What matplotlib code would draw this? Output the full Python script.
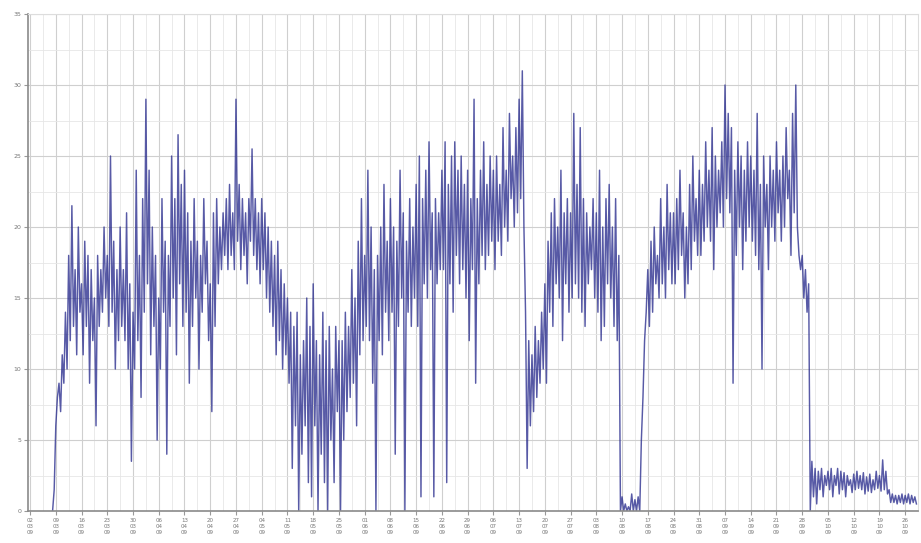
import matplotlib
matplotlib.use("Agg")
import matplotlib.pyplot as plt
import numpy as np

# readings, 16 per week column (step = 1/16 of a tick interval), starting just before tick 1
temp = [
    0.0, 1.5,
    6, 8, 9, 7, 11, 9, 14, 10, 18, 12, 21.5, 13, 17, 11, 20, 14,
    16, 11, 19, 13, 18, 9, 17, 12, 15, 6, 18, 13, 17, 14, 20, 15,
    18, 13, 25, 14, 19, 10, 17, 12, 20, 13, 17, 12, 21, 10, 16, 3.5,
    14, 10, 24, 12, 18, 8, 22, 14, 29, 16, 24, 11, 20, 13, 18, 5,
    15, 10, 22, 14, 19, 4, 18, 13, 25, 15, 22, 11, 26.5, 16, 23, 13,
    24, 14, 21, 9, 19, 13, 22, 15, 19, 10, 18, 14, 22, 16, 19, 12,
    16, 7, 21, 13, 22, 16, 20, 17, 21, 18, 22, 17, 23, 18, 21, 17,
    29, 19, 23, 17, 22, 18, 21, 16, 22, 19, 25.5, 18, 22, 17, 21, 16,
    22, 17, 21, 15, 20, 14, 19, 13, 18, 11, 19, 12, 17, 10, 16, 11,
    15, 9, 14, 3, 13, 6, 14, 0, 11, 4, 12, 6, 15, 2, 13, 1,
    16, 6, 12, 0, 11, 4, 14, 2, 12, 0, 13, 5, 10, 2, 13, 7,
    12, 0, 12, 5, 14, 7, 13, 8, 17, 9, 15, 6, 19, 11, 22, 12,
    18, 13, 24, 12, 20, 9, 17, 0, 18, 12, 20, 11, 23, 14, 19, 12,
    22, 14, 20, 4, 19, 13, 24, 15, 21, 0, 19, 14, 22, 13, 20, 15,
    23, 13, 25, 1, 22, 16, 24, 15, 26, 17, 21, 1, 22, 16, 21, 17,
    24, 17, 26, 2, 23, 16, 25, 14, 26, 18, 24, 16, 25, 17, 23, 15,
    24, 12, 22, 17, 29, 9, 22, 16, 24, 18, 26, 17, 23, 18, 25, 19,
    24, 17, 25, 19, 23, 18, 27, 20, 24, 19, 28, 22, 25, 20, 27, 21,
    29, 22, 31, 20, 14, 3, 12, 6, 11, 7, 13, 8, 12, 9, 14, 10,
    16, 9, 19, 14, 21, 13, 22, 16, 20, 15, 24, 12, 21, 16, 22, 14,
    21, 15, 28, 16, 23, 15, 27, 14, 22, 13, 21, 16, 20, 17, 22, 15,
    21, 14, 24, 12, 20, 13, 22, 16, 23, 15, 20, 13, 22, 12, 18, 0,
    1, 0, 0.5, 0, 0.3, 0, 1.2, 0, 0.8, 0, 1, 0, 5, 8, 12, 14,
    17, 13, 19, 14, 20, 16, 18, 15, 22, 16, 20, 15, 23, 17, 21, 16,
    21, 16, 22, 17, 24, 18, 21, 15, 20, 16, 23, 17, 25, 19, 22, 18,
    24, 18, 23, 19, 26, 20, 24, 19, 27, 17, 25, 20, 24, 21, 26, 20,
    30, 22, 28, 21, 27, 9, 24, 18, 26, 20, 25, 17, 24, 19, 26, 20,
    25, 19, 24, 18, 28, 17, 23, 10, 25, 20, 23, 17, 25, 20, 24, 19,
    26, 21, 24, 19, 25, 20, 27, 22, 24, 18, 28, 21, 30, 20, 18, 17,
    18, 15, 17, 14, 16, 0, 3.5, 1, 3, 0.5, 2.8, 1.5, 3, 1, 2.5, 1.8,
    2.8, 1.5, 3, 1, 2.5, 1.8, 3, 1.2, 2.8, 1.5, 2.7, 1, 2.5, 1.8, 2.2, 1.3,
    2.6, 1.5, 2.8, 1.6, 2.5, 1.5, 2.7, 1.2, 2.4, 1.4, 2.6, 1.3, 2.2, 1.5, 2.8, 1.6,
    2.5, 1.4, 3.6, 1.5, 2.8, 1.2, 1.5, 0.6, 1.2, 0.6, 1.1, 0.5, 1.1, 0.6, 1.2, 0.5,
    1.1, 0.6, 1.2, 0.5, 1.1, 0.6, 1.0, 0.5,
]

dates = ["02/03/09", "09/03/09", "16/03/09", "23/03/09", "30/03/09", "06/04/09",
         "13/04/09", "20/04/09", "27/04/09", "04/05/09", "11/05/09", "18/05/09",
         "25/05/09", "01/06/09", "08/06/09", "15/06/09", "22/06/09", "29/06/09",
         "06/07/09", "13/07/09", "20/07/09", "27/07/09", "03/08/09", "10/08/09",
         "17/08/09", "24/08/09", "31/08/09", "07/09/09", "14/09/09", "21/09/09",
         "28/09/09", "05/10/09", "12/10/09", "19/10/09", "26/10/09"]
yticks = [0, 5, 10, 15, 20, 25, 30, 35]

x = 0.875 + np.arange(len(temp)) / 16

fig = plt.figure(figsize=(9.21, 5.43), dpi=100)
ax = fig.add_axes([0.0304, 0.0589, 0.9664, 0.9153])

ax.plot(x, temp, color="#2e3190", lw=1.05, alpha=0.8)

ax.set_xlim(-0.08, 34.5)
ax.set_ylim(0, 35)
ax.set_xticks(range(len(dates)))
ax.set_xticklabels([d.replace("/", "\n") for d in dates], fontsize=4, color="#777777",
                   linespacing=1.3)
ax.set_yticks(yticks)
ax.set_yticklabels([str(v) for v in yticks], fontsize=4.5, color="#777777")
ax.set_xticks(np.arange(0.5, 34.5, 1), minor=True)
ax.set_yticks(np.arange(0, 35, 2.5), minor=True)
ax.tick_params(axis="both", which="both", length=3, color="#999999", pad=2)
ax.tick_params(axis="both", which="minor", length=0)

ax.grid(which="major", color="#cfcfcf", lw=0.8)
ax.grid(which="minor", color="#e6e6e6", lw=0.6)
ax.set_axisbelow(True)

for side in ["left", "bottom"]:
    ax.spines[side].set_color("#8a8a8a")
    ax.spines[side].set_linewidth(1.2)
for side in ["top", "right"]:
    ax.spines[side].set_color("#dddddd")

fig.savefig("out.png", dpi=100)
